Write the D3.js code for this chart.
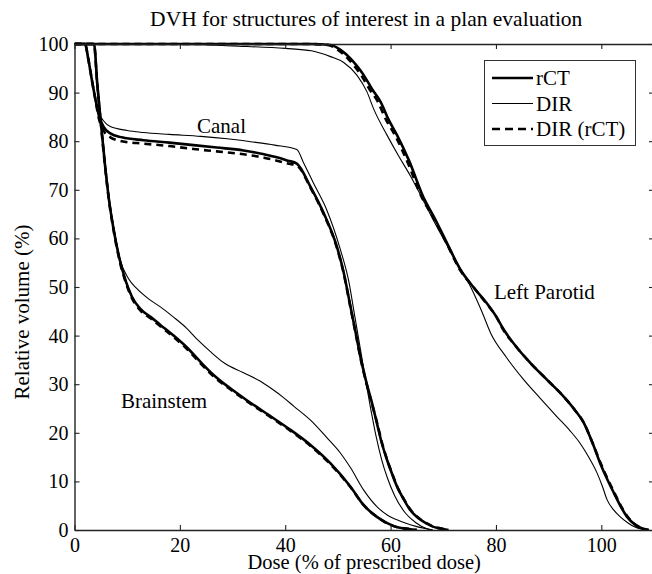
<!DOCTYPE html>
<html>
<head>
<meta charset="utf-8">
<script src="https://cdn.jsdelivr.net/npm/d3@7"></script>
<style>
  html, body { margin: 0; padding: 0; background: #fff; }
  svg { display: block; font-family: "Liberation Serif", "Times New Roman", serif; }
</style>
</head>
<body>
<svg id="chart" width="652" height="574"></svg>
<script>
// ---------- data ----------
const titleText = "DVH for structures of interest in a plan evaluation";
const xLabel = "Dose (% of prescribed dose)";
const yLabel = "Relative volume (%)";
const xTicks = [0, 20, 40, 60, 80, 100];
const yTicks = [0, 10, 20, 30, 40, 50, 60, 70, 80, 90, 100];
const seriesNames = ["rCT", "DIR", "DIR (rCT)"];
const structureNames = ["Brainstem", "Canal", "Left Parotid"];

// [dose %, volume %]
const brainstemRCT = [[0,100],[3.7,100],[4.3,92],[4.9,85],[5.8,75],[6.6,67.5],[7.4,62],[8.5,56],[9.8,51],[10.9,48],[12.5,45.5],[14.5,43.8],[16.3,42.2],[18.8,40],[21.3,37.6],[24,34.5],[26.4,31.9],[29.5,29.2],[32.7,26.7],[37.1,23.5],[41,20.6],[44.8,17.5],[48.6,13.7],[52.4,8.9],[54.9,5.1],[57.4,2.7],[60.6,0.8],[63.5,0.2],[65,0]];
const brainstemDIR = [[0,100],[3.8,100],[4.4,92],[5,85],[5.9,75],[6.7,67.5],[7.5,62],[8.7,55.5],[10.2,51.8],[11.8,49.7],[14,47.6],[16.3,45.9],[18.8,43.8],[21.3,41.5],[23.5,39],[25.8,36.7],[28.5,34.3],[32,32.4],[35.3,30.6],[37.5,29],[39.5,27.4],[41.6,25.5],[44.8,22.6],[47.9,19],[50.5,15.8],[52.4,12.8],[54.9,8.2],[57.4,4.8],[59.5,3],[61.2,2.1],[65,0.7],[68,0]];
const brainstemDIRrCT = [[0,100],[3.7,100],[4.3,92],[4.9,84.8],[5.8,74.8],[6.6,67.3],[7.4,61.8],[8.5,55.7],[9.8,50.7],[10.9,47.7],[12.5,45.2],[14.5,43.5],[16.3,41.9],[18.8,39.7],[21.3,37.3],[24,34.2],[26.4,31.6],[29.5,29],[32.7,26.5],[37.1,23.3],[41,20.4],[44.8,17.3],[48.6,13.5],[52.4,8.8],[54.9,5.1],[57.4,2.7],[60.6,0.8],[63.5,0.2],[65,0]];

const canalRCT = [[0,100],[2,100],[2.6,97],[3.3,92.6],[4,88.5],[4.6,85.4],[5.5,83],[6.8,81.6],[9,80.8],[13.1,80.2],[18,79.7],[22.6,79.2],[27,78.7],[32.1,78.1],[36,77.3],[38.4,76.7],[40.5,76],[42.2,75.4],[44.8,70.6],[47.3,65.2],[49.8,58.3],[51.1,53],[52.2,47],[53.3,41],[54.4,35],[55.5,30],[56.5,26],[57.4,22],[58.3,18],[59.3,14.5],[60.3,11.5],[61.2,9],[62.5,6.3],[63.8,4],[65.3,2.4],[66.9,1.3],[68,0.7],[69.5,0.3],[71,0]];
const canalDIR = [[0,100],[2.1,100],[2.8,96],[3.4,92],[4,88],[4.6,85.8],[5.5,84.2],[6.8,83],[10,82.2],[13,81.8],[18,81.4],[24,81],[29,80.5],[33.4,79.9],[38,79.2],[42.2,78.3],[43.5,75.5],[45.4,71.3],[47.9,65.8],[50.5,57.6],[52,51.5],[53.2,44],[54.3,37],[55.3,30.5],[56.3,24.5],[57.2,19.5],[58.3,14.5],[59.3,11],[60.8,7],[62.8,3.5],[64.8,1.5],[66.8,0.3],[68,0]];
const canalDIRrCT = [[0,100],[2,100],[2.6,97],[3.3,92.6],[4,88.3],[4.6,84.8],[5.5,82.2],[6.8,80.8],[9,80],[13.1,79.5],[18,79],[22.6,78.4],[27,77.9],[32.1,77.3],[36,76.6],[38.4,76],[40.5,75.4],[42.2,75],[44.8,70.4],[47.3,65],[49.8,58.1],[51.1,52.8],[52.2,46.8],[53.3,40.8],[54.4,34.8],[55.5,29.8],[56.5,25.8],[57.5,21.8],[58.4,17.8],[59.4,14.3],[60.4,11.3],[61.3,8.8],[62.6,6.2],[63.9,4],[65.4,2.4],[67,1.3],[68.1,0.7],[69.6,0.3],[71,0]];

const parotidRCT = [[0,100],[45,100],[48.6,99.8],[50.5,98.8],[52.4,97],[53.6,95.5],[54.9,93.6],[56.5,90.7],[58.1,88.1],[59.6,84.5],[61.2,81.3],[63.5,76],[66.3,68.3],[68.2,64.5],[70.5,59.5],[73.3,53.5],[76,49.6],[78.3,46.6],[80,44],[81.5,41.2],[84,37.5],[86.6,34.3],[89.8,30.8],[92.9,27.4],[94.9,24.8],[96.7,22],[98.3,18],[99.8,13.7],[101.1,10.5],[102.4,7.6],[103.7,4.8],[104.9,2.7],[106.5,1],[108.1,0.2],[109,0]];
const parotidDIR = [[0,100],[20,100],[30,99.6],[40,99.1],[45,98.6],[48.6,97.4],[51.1,96.2],[53.6,93.6],[55.5,90.2],[56.8,86.6],[59.3,81.3],[61.5,77],[63.8,72.8],[65.7,68.9],[68,64],[70.5,59],[73,54.2],[75.3,49.8],[77.3,45],[79,40.5],[82,35.5],[85.3,30.9],[88.5,27],[91.6,23.3],[94,20.5],[96,17.8],[97.6,15],[99.2,11.7],[100.2,9],[101.1,6.2],[102.3,4.2],[103.6,2.7],[105,1.5],[106.2,0.7],[107.5,0.2],[109,0]];
const parotidDIRrCT = [[0,100],[44.5,100],[48.1,99.8],[50,98.8],[51.9,97],[53.1,95.5],[54.4,93.6],[56,90.7],[57.6,88.1],[59.1,84.5],[60.8,81.3],[63.1,76],[66,68.3],[68,64.5],[70.4,59.5],[73.2,53.5],[76,49.6],[78.2,46.6],[80,44],[81.4,41.2],[84,37.5],[86.6,34.3],[89.8,30.8],[92.9,27.4],[94.9,24.8],[96.7,22],[98.3,18],[99.9,13.7],[101.2,10.5],[102.5,7.6],[103.8,4.8],[105,2.7],[106.6,1],[108.2,0.2],[109,0]];

// ---------- layout ----------
const svg = d3.select("#chart");
const mLeft = 74.5, mRight = 654, mTop = 44, mBottom = 530;
const x = d3.scaleLinear().domain([0, 110]).range([mLeft, mRight]);
const y = d3.scaleLinear().domain([0, 100]).range([mBottom, mTop]);

const line = d3.line().x(d => x(d[0])).y(d => y(d[1])).curve(d3.curveMonotoneX);

const styles = {
  "rCT": { width: 2.6, dash: null },
  "DIR": { width: 1.1, dash: null },
  "DIR (rCT)": { width: 2.6, dash: "7,5" }
};

svg.append("clipPath").attr("id", "plotclip")
  .append("rect").attr("x", mLeft).attr("y", mTop - 2).attr("width", mRight - mLeft).attr("height", mBottom - mTop + 2);

const plot = svg.append("g").attr("clip-path", "url(#plotclip)");

const groups = [
  { s: "DIR", data: [brainstemDIR, canalDIR, parotidDIR] },
  { s: "rCT", data: [brainstemRCT, canalRCT, parotidRCT] },
  { s: "DIR (rCT)", data: [brainstemDIRrCT, canalDIRrCT, parotidDIRrCT] }
];
groups.forEach(g => {
  g.data.forEach(d => {
    plot.append("path")
      .attr("d", line(d))
      .attr("fill", "none")
      .attr("stroke", "#000")
      .attr("stroke-width", styles[g.s].width)
      .attr("stroke-dasharray", styles[g.s].dash)
      .attr("stroke-linejoin", "round");
  });
});

// ---------- axes ----------
const axisColor = "#222";
const fs = 20;
const gB = svg.append("g").attr("transform", `translate(0,${mBottom})`)
  .call(d3.axisBottom(x).tickValues(xTicks).tickSize(-5).tickSizeOuter(0).tickPadding(8).tickFormat(d3.format("d")));
const gT = svg.append("g").attr("transform", `translate(0,${mTop})`)
  .call(d3.axisTop(x).tickValues(xTicks).tickSize(-5).tickSizeOuter(0).tickFormat(""));
const gL = svg.append("g").attr("transform", `translate(${mLeft},0)`)
  .call(d3.axisLeft(y).tickValues(yTicks).tickSize(-5).tickSizeOuter(0).tickPadding(6).tickFormat(d3.format("d")));
const gR = svg.append("g").attr("transform", `translate(${mRight},0)`)
  .call(d3.axisRight(y).tickValues(yTicks).tickSize(-5).tickSizeOuter(0).tickFormat(""));
[gB, gT, gL, gR].forEach(g => {
  g.select(".domain").attr("stroke", axisColor).attr("stroke-width", 1.4);
  g.selectAll(".tick line").attr("stroke", axisColor).attr("stroke-width", 1.1);
  g.selectAll(".tick text").attr("fill", "#000").style("font-size", fs + "px")
    .style("font-family", '"Liberation Serif", "Times New Roman", serif');
});

// ---------- titles ----------
svg.append("text").attr("x", (mLeft + mRight) / 2 + 2).attr("y", 26)
  .attr("text-anchor", "middle").style("font-size", "21.5px").text(titleText);
svg.append("text").attr("x", (mLeft + mRight) / 2).attr("y", 569)
  .attr("text-anchor", "middle").style("font-size", "20.5px").text(xLabel);
svg.append("text").attr("transform", `translate(29,${(mTop + mBottom) / 2 + 25}) rotate(-90)`)
  .attr("text-anchor", "middle").style("font-size", "21px").text(yLabel);

// ---------- structure labels ----------
const structPos = [[17, 26.7], [27.9, 83.3], [89.2, 49]];
structureNames.forEach((n, i) => {
  svg.append("text").attr("x", x(structPos[i][0])).attr("y", y(structPos[i][1]))
    .attr("dy", "0.35em").attr("text-anchor", "middle").style("font-size", "21px").text(n);
});

// ---------- legend ----------
const lg = svg.append("g");
lg.append("rect").attr("x", 484.5).attr("y", 60.5).attr("width", 151).attr("height", 85)
  .attr("fill", "#fff").attr("stroke", "#333").attr("stroke-width", 1);
seriesNames.forEach((n, i) => {
  const yy = 78 + i * 25.5;
  lg.append("line").attr("x1", 492).attr("x2", 533).attr("y1", yy).attr("y2", yy)
    .attr("stroke", "#000").attr("stroke-width", styles[n].width)
    .attr("stroke-dasharray", styles[n].dash ? "8,5" : null);
  lg.append("text").attr("x", 536).attr("y", yy).attr("dy", "0.35em")
    .style("font-size", "21px").text(n);
});
</script>
</body>
</html>
